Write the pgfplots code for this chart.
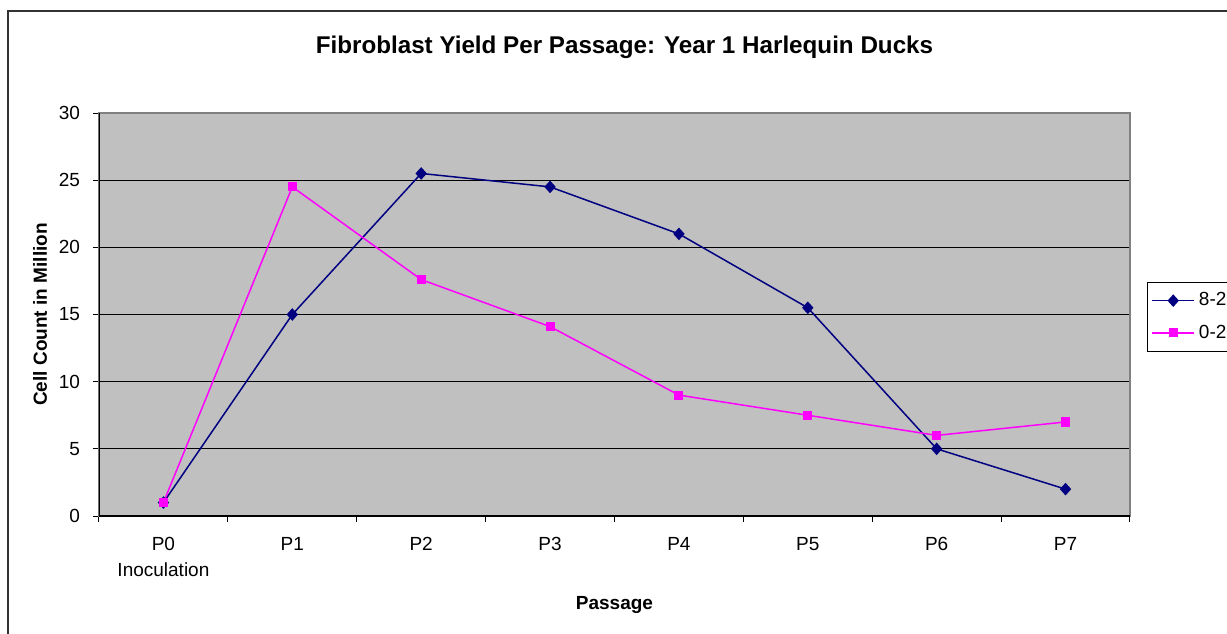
\documentclass[border=0pt]{standalone}
\usepackage{pgfplots}
\pgfplotsset{compat=1.18}
\usepackage{fontspec}
\setmainfont{Liberation Sans}
\definecolor{navyc}{HTML}{000080}
\definecolor{magc}{HTML}{FF00FF}
\definecolor{plotbg}{HTML}{C0C0C0}
\begin{document}
\begin{tikzpicture}
\draw[line width=0.6pt, draw=black!80] (4pt,-10pt) rectangle (625pt,311pt);
\begin{axis}[
  at={(49.5pt,58.5pt)}, anchor=south west,
  scale only axis, width=515.5pt, height=201.5pt,
  xmin=-0.5, xmax=7.5, ymin=0, ymax=30,
  axis background/.style={fill=plotbg},
  axis line style={draw=black!50, line width=0.6pt},
  xtick={0,...,7},
  xticklabels={{P0\\Inoculation},P1,P2,P3,P4,P5,P6,P7},
  major x tick style={draw=none},
  minor xtick={-0.5,0.5,...,7.5},
  minor tick length=3pt,
  xminorgrids=false,
  ytick={0,5,...,30},
  ymajorgrids, major grid style={black, line width=0.5pt},
  tick align=outside,
  major tick length=3pt,
  tick style={black, line width=0.5pt},
  xtick pos=bottom, ytick pos=left,
  xticklabel style={align=center, font=\fontsize{9.5}{13}\selectfont, yshift=-4pt},
  yticklabel style={font=\fontsize{9.5}{11}\selectfont, xshift=-3pt},
  /pgf/number format/assume math mode=true,
  title={\fontsize{12.1}{14}\selectfont\bfseries Fibroblast Yield Per Passage: Year 1 Harlequin Ducks},
  title style={at={(axis description cs:0.5,1)}, anchor=center, yshift=27pt, xshift=5pt},
  xlabel={\bfseries Passage},
  xlabel style={font=\fontsize{9.5}{11}\selectfont, at={(axis description cs:0.5,-0.2208)}, anchor=center},
  ylabel={\bfseries Cell Count in Million},
  ylabel style={font=\fontsize{9.5}{11}\selectfont, at={(axis description cs:-0.0572,0.5)}, anchor=center},
  legend style={at={(axis description cs:1.0165,0.5806)}, anchor=north west,
    draw=black, fill=white, font=\fontsize{9.5}{11}\selectfont,
    inner xsep=2pt, inner ysep=3pt, row sep=4pt, line width=0.5pt},
  legend cell align=left,
  legend image code/.code={
    \draw[#1, mark=none] (0pt,0pt) -- (21pt,0pt);
    \path[#1] plot coordinates {(10.5pt,0pt)};
  },
]
\addplot[color=navyc, line width=0.75pt, mark=diamond*, mark size=2.6pt, mark options={fill=navyc, draw=navyc, xscale=1.2}]
  coordinates {(0,1) (1,15) (2,25.5) (3,24.5) (4,21) (5,15.5) (6,5) (7,2)};
\addlegendentry{8-2}
\addplot[color=magc, line width=0.75pt, mark=square*, mark size=1.9pt, mark options={fill=magc, draw=magc}]
  coordinates {(0,1) (1,24.5) (2,17.6) (3,14.1) (4,9) (5,7.5) (6,6) (7,7)};
\addlegendentry{0-2}
\draw[black, line width=0.6pt] (rel axis cs:0,0) -- (rel axis cs:0,1);
\draw[black, line width=0.6pt] (rel axis cs:0,0) -- (rel axis cs:1,0);
\end{axis}
\pgfresetboundingbox
\useasboundingbox (0,0) rectangle (613.5pt,316.5pt);
\end{tikzpicture}
\end{document}
